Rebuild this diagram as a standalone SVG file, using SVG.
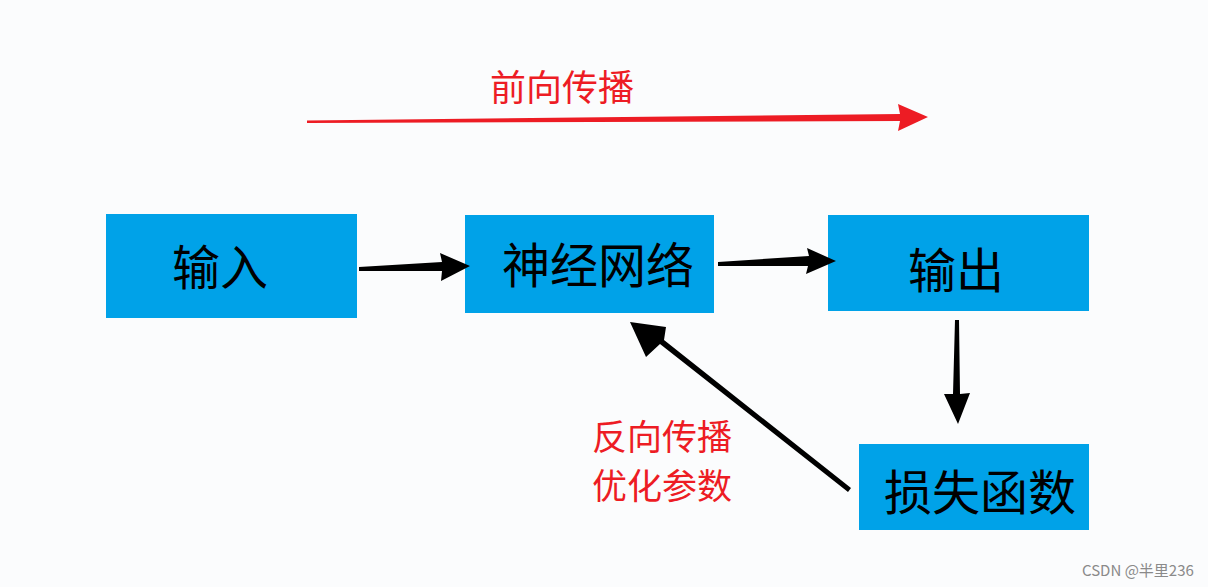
<svg xmlns="http://www.w3.org/2000/svg" width="1208" height="587" viewBox="0 0 1208 587">
<style>
.box{fill:#00A2E8}
.t{font-family:"Noto Sans CJK SC","Liberation Sans",sans-serif;fill:#000;text-anchor:middle;font-size:48px}
.r{font-family:"Noto Sans CJK SC","Liberation Sans",sans-serif;fill:#ED1C24;font-size:36px}
.k{fill:#000}
</style>
<rect width="1208" height="587" fill="#FBFCFD"/>
<g id="forward">
<polygon fill="#ED1C24" points="307,120.5 900,114 898,104 928,117 898,131 900,121 307,123"/>
<text class="r" x="490" y="101">前向传播</text>
</g>
<g id="n-input"><rect class="box" x="106" y="214" width="251" height="104"/><text class="t" x="220" y="285">输入</text></g>
<g id="n-nn"><rect class="box" x="465" y="215" width="249" height="98"/><text class="t" x="598" y="283">神经网络</text></g>
<g id="n-output"><rect class="box" x="828" y="215" width="261" height="96"/><text class="t" x="956" y="288">输出</text></g>
<g id="n-loss"><rect class="box" x="859" y="444" width="230" height="86"/><text class="t" x="980" y="510">损失函数</text></g>
<g id="connectors">
<polygon class="k" points="359,267 442,262 440,253 470,266 441,281 442,271 359,271"/>
<polygon class="k" points="718,262 809,256 807,248 836,261 806,274 808,266 718,266"/>
<polygon class="k" points="955,320 959,320 960,394 970,393 958,424 944,394 953,394"/>
<polygon class="k" points="851,488 848,492 660,344 646,357 630,322 666,327 664,340"/>
</g>
<g id="backprop-label">
<text class="r" x="592" y="450" style="font-size:35px">反向传播</text>
<text class="r" x="592" y="499" style="font-size:35px">优化参数</text>
</g>
<text x="1082" y="576" style="font-family:'Noto Sans CJK SC','Liberation Sans',sans-serif;font-size:15px;fill:#8a8a8a">CSDN @半里236</text>
</svg>
